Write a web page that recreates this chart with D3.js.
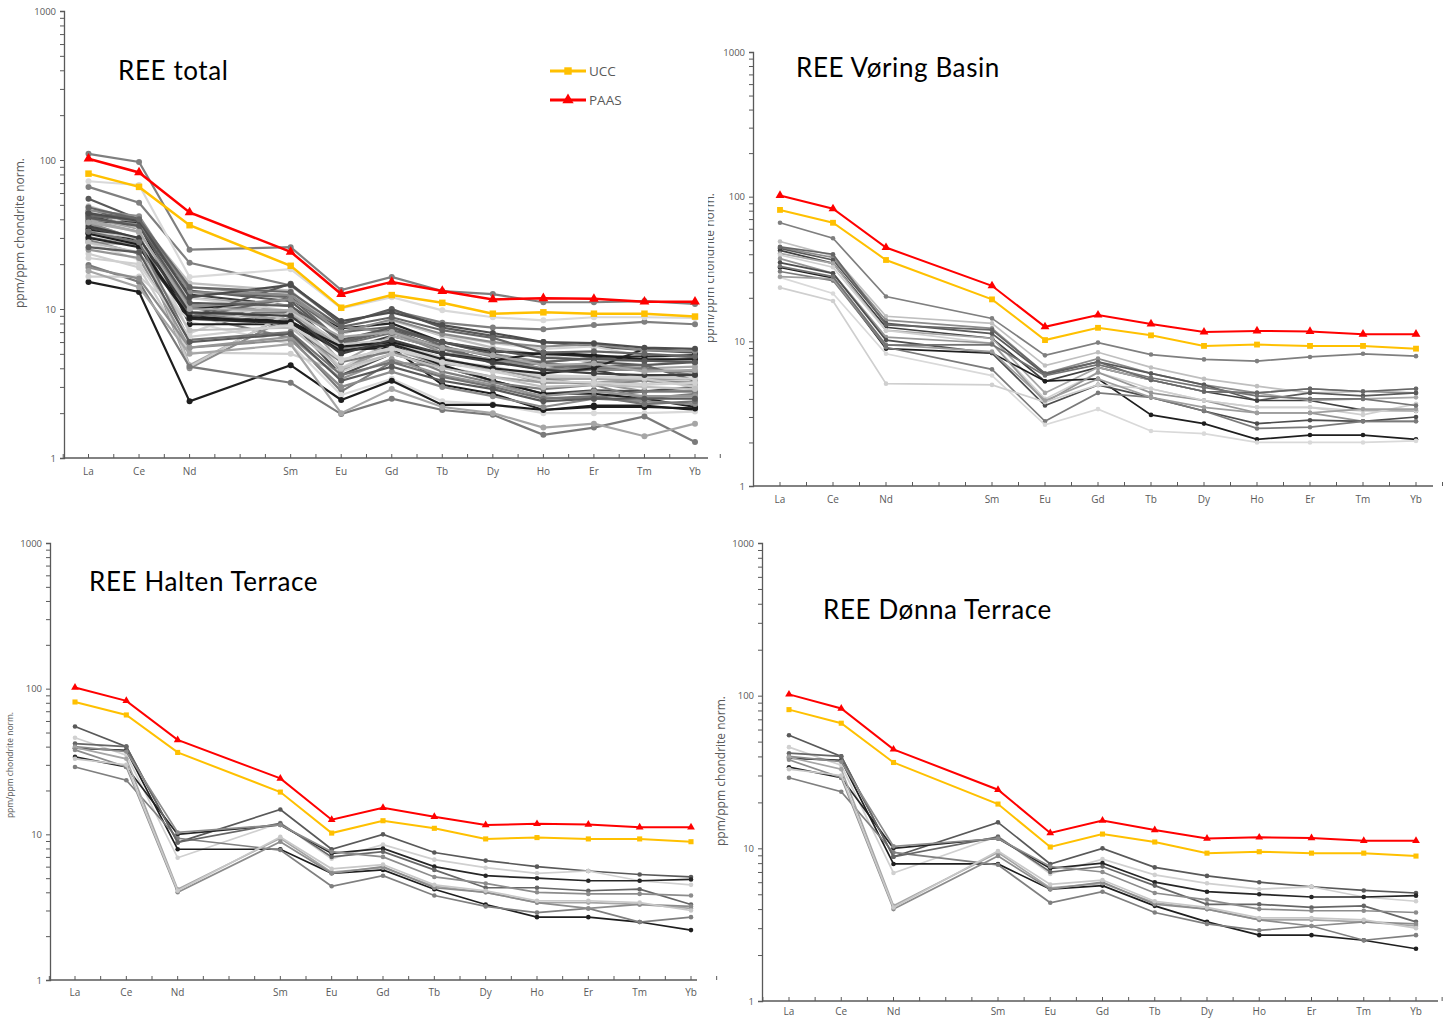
<!DOCTYPE html>
<html>
<head>
<meta charset="utf-8">
<script src="https://cdn.jsdelivr.net/npm/d3@7"></script>
<style>
  body { margin: 0; background: #fff; }
  svg { display: block; }
  .tick-label { font-family: "Open Sans", sans-serif; fill: #595959; }
  .title { font-family: Lato, "Open Sans", sans-serif; fill: #000; letter-spacing: 0.6px; }
</style>
</head>
<body>
<svg id="svg" width="1448" height="1019"></svg>
<script>
// slots on the category axis (Pm is left empty)
var elements = ["La", "Ce", "Nd", "Pm", "Sm", "Eu", "Gd", "Tb", "Dy", "Ho", "Er", "Tm", "Yb"];
var measured = ["La", "Ce", "Nd", "Sm", "Eu", "Gd", "Tb", "Dy", "Ho", "Er", "Tm", "Yb"];
var yTicks = [1, 10, 100, 1000];

// reference curves, chondrite normalised
var ucc = [81, 66, 36.5, 19.5, 10.2, 12.4, 11, 9.3, 9.5, 9.3, 9.3, 8.9];
var paas = [102, 82.5, 44.5, 24.2, 12.6, 15.2, 13.2, 11.6, 11.8, 11.7, 11.2, 11.2];

var voringSamples = [
  [66, 51.6, 20.4, 14.4, 8.0, 9.8, 8.1, 7.5, 7.3, 7.8, 8.2, 7.9],
  [49, 39, 14.9, 13.3, 6.8, 8.4, 6.6, 5.5, 4.9, 4.4, 4.5, 4.7],
  [44.5, 38, 14, 12.3, 6.0, 7.6, 6.0, 5.0, 4.4, 4.7, 4.5, 4.4],
  [43.8, 36.5, 13.3, 11.3, 5.9, 7.2, 6.0, 5.0, 3.9, 4.4, 4.2, 4.4],
  [42.5, 34.6, 12.5, 10.5, 5.3, 6.6, 5.4, 4.5, 3.9, 3.9, 3.35, 3.3],
  [40.5, 34.6, 11.9, 10.5, 4.4, 6.6, 5.4, 4.5, 4.4, 3.9, 4.0, 4.1],
  [39.5, 32.5, 11.9, 9.7, 4.0, 6.1, 4.7, 3.9, 3.5, 3.5, 3.1, 3.7],
  [32.4, 27.4, 8.9, 8.3, 5.3, 5.5, 3.1, 2.7, 2.1, 2.25, 2.25, 2.1],
  [37.3, 29.5, 10.7, 9.7, 3.8, 6.1, 4.4, 3.9, 3.2, 3.2, 2.8, 2.8],
  [35, 29.5, 10.2, 8.3, 3.6, 5.0, 4.1, 3.3, 2.7, 2.85, 2.8, 3.0],
  [30.4, 26.3, 9.1, 6.4, 2.8, 4.4, 4.1, 3.3, 2.5, 2.55, 2.8, 2.8],
  [27.7, 21.4, 8.2, 5.8, 2.65, 3.4, 2.4, 2.3, 2.0, 2.0, 2.0, 2.05],
  [23.5, 19, 5.1, 5.0, 3.8, 5.0, 4.7, 3.9, 3.5, 3.5, 3.3, 3.3],
  [45, 40, 13, 12, 6.0, 7.2, 5.4, 4.5, 4.4, 4.7, 4.5, 4.7],
  [28, 27, 9.5, 8.5, 3.9, 5.5, 4.1, 3.5, 3.2, 3.2, 3.4, 3.4],
  [33, 28, 9.4, 9.5, 5.8, 6.9, 5.6, 4.8, 4.2, 4.0, 4.0, 3.6]
];

var haltenSamples = [
  [55, 40, 8.8, 14.8, 7.9, 10, 7.5, 6.6, 6.0, 5.6, 5.3, 5.1],
  [46, 35, 6.9, 12, 6.8, 8.5, 6.7, 5.9, 5.4, 5.6, 4.8, 4.5],
  [34, 29, 10.0, 11.6, 7.4, 8.0, 6.0, 5.2, 5.0, 4.8, 4.8, 4.9],
  [39, 37.7, 7.9, 7.9, 5.4, 5.7, 4.2, 3.3, 2.7, 2.7, 2.5, 2.2],
  [29, 23.5, 9.4, 7.8, 4.4, 5.2, 3.8, 3.2, 2.9, 3.1, 2.5, 2.7],
  [42, 40, 8.8, 11.9, 7.0, 7.6, 5.7, 4.3, 4.3, 4.1, 4.2, 3.3],
  [40, 37, 10.3, 11.6, 7.6, 7.0, 5.1, 4.6, 4.0, 3.9, 3.9, 3.8],
  [39.5, 33, 4.2, 9.4, 5.5, 5.9, 4.4, 4.0, 3.4, 3.4, 3.3, 3.1],
  [38, 29, 4.0, 8.9, 5.4, 6.0, 4.3, 4.0, 3.4, 3.1, 3.3, 3.2],
  [33, 30, 4.1, 9.6, 5.8, 6.2, 4.5, 4.1, 3.5, 3.5, 3.4, 3.0]
];

// the Dønna Terrace panel plots the same sample set as Halten
var donnaSamples = haltenSamples;

// further samples only shown in the total plot
var otherSamples = [
  [110, 97, 25, 26, 13.4, 16.4, 13.2, 12.6, 11.1, 11.1, 11.3, 10.8],
  [72, 68, 16.4, 18.5, 10.1, 12.0, 9.8, 8.8, 8.4, 8.8, 8.8, 8.7],
  [15.2, 13, 2.4, 4.2, 2.45, 3.3, 2.27, 2.27, 2.1, 2.2, 2.2, 2.15],
  [19.7, 15.2, 4.1, 3.2, 1.97, 2.5, 2.1, 1.95, 1.43, 1.6, 1.9, 1.28],
  [16.5, 16.5, 8.5, 8.0, 4.5, 5.5, 4.5, 4.0, 3.6, 3.5, 3.5, 3.4],
  [19, 16, 5.5, 6.2, 3.0, 3.8, 3.0, 2.6, 2.2, 2.5, 2.4, 2.3],
  [30, 26, 8.6, 8.0, 5.2, 5.8, 4.6, 4.0, 3.7, 4.0, 5.4, 5.15],
  [32, 27, 8.8, 8.2, 5.6, 6.0, 5.0, 4.5, 5.1, 4.9, 4.6, 4.6],
  [46, 42, 13, 12.5, 7.0, 8.5, 6.8, 6.0, 5.6, 5.8, 5.3, 5.2],
  [41, 36, 11, 10.5, 6.2, 7.5, 6.0, 5.3, 4.7, 4.6, 4.5, 4.4],
  [36, 30, 9.5, 9.0, 5.0, 6.2, 5.0, 4.4, 3.9, 3.7, 3.6, 3.6],
  [28, 24, 7.2, 7.5, 4.0, 5.0, 4.0, 3.5, 3.0, 3.1, 3.0, 2.9],
  [25, 22, 5.5, 6.5, 3.4, 4.6, 3.6, 3.1, 2.6, 2.8, 2.6, 2.6],
  [44, 39, 12, 14.5, 8.3, 9.5, 7.8, 6.9, 6.0, 5.9, 5.5, 5.4],
  [38, 33, 10, 9.8, 6.5, 7.0, 5.5, 4.9, 4.2, 4.3, 3.8, 3.9],
  [33, 28, 6.2, 7.0, 3.6, 4.4, 3.5, 3.0, 2.5, 2.6, 2.3, 2.4],
  [48, 40, 14, 13, 7.6, 8.8, 7.2, 6.4, 5.1, 5.2, 5.0, 4.8],
  [22, 20, 6.5, 7.8, 4.6, 5.4, 4.4, 3.8, 3.3, 3.2, 3.1, 3.2],
  [18, 14, 5.0, 5.8, 2.0, 2.9, 2.2, 2.0, 1.6, 1.7, 1.4, 1.7],
  [26, 24, 6.0, 6.8, 3.3, 4.1, 3.3, 2.9, 2.4, 2.5, 2.5, 2.5]
];

// line shades, one list per sample group
var voringGrays = ["#7f7f7f", "#bfbfbf", "#8c8c8c", "#595959", "#404040", "#a6a6a6",
                   "#d0d0d0", "#1e1e1e", "#969696", "#4d4d4d", "#7a7a7a", "#d9d9d9",
                   "#cfcfcf", "#666666", "#9e9e9e", "#737373"];
var haltenGrays = ["#595959", "#d0d0d0", "#262626", "#1e1e1e", "#7f7f7f",
                   "#666666", "#8c8c8c", "#a6a6a6", "#8c8c8c", "#c8c8c8"];
var otherGrays = ["#7f7f7f", "#d9d9d9", "#1e1e1e", "#7a7a7a", "#d0d0d0", "#8c8c8c",
                  "#262626", "#1e1e1e", "#8c8c8c", "#595959", "#404040", "#bfbfbf",
                  "#969696", "#4d4d4d", "#a6a6a6", "#737373", "#666666", "#d0d0d0",
                  "#a6a6a6", "#595959"];

function withShades(samples, shades) {
  return samples.map(function (s, i) { return { vals: s, color: shades[i % shades.length] }; });
}

var voringSet = withShades(voringSamples, voringGrays);
var haltenSet = withShades(haltenSamples, haltenGrays);
var donnaSet = withShades(donnaSamples, haltenGrays);
var totalSet = voringSet.concat(haltenSet, withShades(otherSamples, otherGrays));

var panels = [
  { title: "REE total", set: totalSet, left: 64, right: 708, top: 11, bottom: 458,
    laX: 88.5, ybX: 695, titleX: 118, titleY: 80, titleSize: 26, labelDy: 17,
    yLabel: { x: 24, y: 233, size: 12 }, lw: 2.2, r: 3, sym: 42, legend: true },
  { title: "REE Vøring Basin", set: voringSet, left: 753, right: 1433, top: 52, bottom: 486,
    laX: 780, ybX: 1416, titleX: 796, titleY: 77, titleSize: 26, labelDy: 17,
    yLabel: { x: 714, y: 268, size: 12, clip: 708 }, lw: 1.7, r: 2.3, sym: 34 },
  { title: "REE Halten Terrace", set: haltenSet, left: 50, right: 697, top: 543, bottom: 980,
    laX: 75, ybX: 691, titleX: 89, titleY: 591, titleSize: 26, labelDy: 16,
    yLabel: { x: 13, y: 765, size: 8.5 }, lw: 1.7, r: 2.3, sym: 26 },
  { title: "REE Dønna Terrace", set: donnaSet, left: 762, right: 1438, top: 543, bottom: 1001,
    laX: 789, ybX: 1416, titleX: 823, titleY: 619, titleSize: 26, labelDy: 14,
    yLabel: { x: 725, y: 771, size: 12 }, lw: 1.7, r: 2.3, sym: 26 }
];

var svg = d3.select("#svg");
var defs = svg.append("defs");

panels.forEach(function (p, pi) {
  var g = svg.append("g");
  var x = d3.scaleLinear().domain([0, elements.length - 1]).range([p.laX, p.ybX]);
  var y = d3.scaleLog().domain([1, 1000]).range([p.bottom, p.top]);
  var xOf = function (el) { return x(elements.indexOf(el)); };

  // y axis with log minor ticks
  var minor = [];
  for (var d = 1; d < 1000; d *= 10)
    for (var k = 2; k < 10; k++) minor.push(d * k);
  var yAxis = d3.axisLeft(y).tickValues(yTicks.concat(minor)).tickSize(4)
    .tickFormat(function (v) { return yTicks.indexOf(v) >= 0 ? v : ""; });
  var ya = g.append("g").attr("transform", "translate(" + p.left + ",0)").call(yAxis);
  ya.select(".domain").attr("stroke", "#595959").attr("stroke-width", 1.3);
  ya.selectAll(".tick line").attr("stroke", "#595959");
  ya.selectAll(".tick text").attr("class", "tick-label").attr("font-size", 9.5).attr("x", -8);

  // category axis: ticks on every slot and half slot
  var halfTicks = d3.range(-0.5, elements.length, 0.5);
  var xa = g.append("g").attr("transform", "translate(0," + p.bottom + ")");
  xa.append("line").attr("x1", p.left).attr("x2", p.right)
    .attr("stroke", "#595959").attr("stroke-width", 1.3);
  xa.selectAll(".xt").data(halfTicks).join("line")
    .attr("x1", function (t) { return x(t); }).attr("x2", function (t) { return x(t); })
    .attr("y1", 0).attr("y2", -4).attr("stroke", "#595959");
  xa.selectAll(".xl").data(measured).join("text")
    .attr("class", "tick-label").attr("font-size", 10)
    .attr("x", xOf).attr("y", p.labelDy).attr("text-anchor", "middle").text(function (e) { return e; });

  // axis title (clipped by the panel edge in the Vøring plot)
  var holder = g.append("g");
  if (p.yLabel.clip) {
    defs.append("clipPath").attr("id", "clipY" + pi).append("rect")
      .attr("x", p.yLabel.clip).attr("y", 0).attr("width", 100).attr("height", 1019);
    holder.attr("clip-path", "url(#clipY" + pi + ")");
  }
  holder.append("text").attr("class", "tick-label")
    .attr("font-size", p.yLabel.size).attr("text-anchor", "middle")
    .attr("transform", "translate(" + p.yLabel.x + "," + p.yLabel.y + ") rotate(-90)")
    .text("ppm/ppm chondrite norm.");

  var line = d3.line()
    .x(function (v, i) { return xOf(measured[i]); })
    .y(function (v) { return y(v); });

  // samples
  p.set.forEach(function (s) {
    var sg = g.append("g");
    sg.append("path").datum(s.vals).attr("d", line)
      .attr("fill", "none").attr("stroke", s.color).attr("stroke-width", p.lw);
    sg.selectAll("circle").data(s.vals).join("circle")
      .attr("cx", function (v, i) { return xOf(measured[i]); })
      .attr("cy", function (v) { return y(v); })
      .attr("r", p.r).attr("fill", s.color);
  });

  // reference curves
  [{ vals: ucc, color: "#ffc000", sym: d3.symbolSquare },
   { vals: paas, color: "#ff0000", sym: d3.symbolTriangle }].forEach(function (ref) {
    g.append("path").datum(ref.vals).attr("d", line)
      .attr("fill", "none").attr("stroke", ref.color).attr("stroke-width", p.lw + 0.3);
    g.selectAll(null).data(ref.vals).join("path")
      .attr("d", d3.symbol(ref.sym).size(p.sym))
      .attr("transform", function (v, i) { return "translate(" + xOf(measured[i]) + "," + y(v) + ")"; })
      .attr("fill", ref.color);
  });

  g.append("text").attr("class", "title").attr("font-size", p.titleSize)
    .attr("x", p.titleX).attr("y", p.titleY).text(p.title);

  if (p.legend) {
    var lg = g.append("g");
    [{ name: "UCC", color: "#ffc000", sym: d3.symbolSquare, y: 71 },
     { name: "PAAS", color: "#ff0000", sym: d3.symbolTriangle, y: 100 }].forEach(function (l) {
      lg.append("line").attr("x1", 550).attr("x2", 586).attr("y1", l.y).attr("y2", l.y)
        .attr("stroke", l.color).attr("stroke-width", 3);
      lg.append("path").attr("d", d3.symbol(l.sym).size(55))
        .attr("transform", "translate(568," + l.y + ")").attr("fill", l.color);
      lg.append("text").attr("class", "tick-label").attr("font-size", 13.5)
        .attr("x", 589).attr("y", l.y + 5).text(l.name);
    });
  }
});
</script>
</body>
</html>
